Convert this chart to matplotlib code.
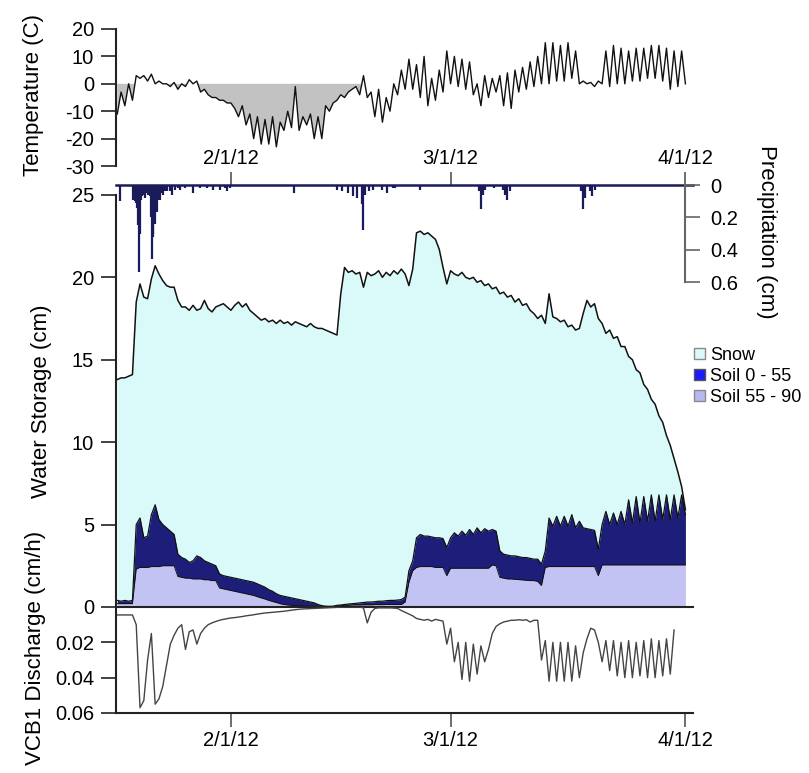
import numpy as np
import matplotlib
matplotlib.use('Agg')
import matplotlib.pyplot as plt
from matplotlib.patches import Patch

plt.rcParams['font.family'] = ['Liberation Sans', 'DejaVu Sans']

# ---------------- data (day of year 2012, Jan 1 = 0; half-day steps) ----------------
t_start = 16.0
step = 0.5

temperature_c = [
    -11, -3, -8, 0, -6, 3, 2, 3, 1, 3.5,
    0, 1, 0, 0, -1, 0.5, -2, 0, -1, 1.5,
    0, 1, -3, -2, -4, -5, -5, -6, -6, -7,
    -7, -9, -12, -8, -15, -11, -20, -12, -22, -13,
    -22, -12, -23, -14, -17, -10, -16, -1, -17, -12,
    -15, -11, -20, -12, -20, -8, -10, -7, -6, -4,
    -5, -3, -2, -1, -4, 3, -5, -3, -12, -2,
    -14, -5, -10, 0, -4, 5, -2, 9, -2, 7,
    -5, 10, -8, 2, -6, 5, -3, 12, 0, 10,
    -1, 9, -2, 8, -4, 0, -8, 3, -5, 2,
    -3, 3, -8, 4, -9, 5, -3, 6, -2, 8,
    -1, 10, 0, 15, 0, 15, 1, 14, 1, 15,
    2, 12, 0, 1, 0, 0.5, -1, 1, 0, 12,
    -1, 14, 0, 13, 0, 12, 1, 13, 1, 13,
    2, 14, 2, 14, 1, 13, -2, 12, -1, 12,
    0,
]

storage_total_cm = [
    13.8, 13.9, 13.9, 14.0, 14.1, 18.5, 19.6, 18.8, 18.7, 19.9,
    20.7, 20.2, 19.8, 19.5, 19.4, 19.4, 18.6, 18.2, 18.2, 18.0,
    18.3, 18.0, 18.1, 18.6, 18.1, 17.9, 18.2, 18.3, 18.4, 18.2,
    18.0, 18.3, 18.5, 18.2, 18.4, 18.0, 17.8, 17.6, 17.4, 17.5,
    17.3, 17.4, 17.2, 17.4, 17.2, 17.3, 17.1, 17.3, 17.2, 17.1,
    17.0, 17.2, 17.0, 16.9, 16.9, 16.8, 16.7, 16.6, 16.5, 19.0,
    20.6, 20.3, 20.4, 20.2, 20.3, 19.4, 20.3, 20.1, 20.2, 20.4,
    20.0, 20.3, 20.1, 20.4, 20.2, 20.5, 20.2, 19.5, 20.5, 22.7,
    22.8, 22.6, 22.7, 22.5, 22.3, 21.7, 20.6, 19.6, 20.4, 20.2,
    20.1, 20.3, 20.0, 19.9, 20.0, 19.7, 19.8, 19.5, 19.6, 19.3,
    19.4, 19.0, 19.1, 18.8, 18.9, 18.5, 18.7, 18.3, 18.4, 18.0,
    17.8, 17.5, 17.7, 17.2, 19.0, 17.6, 17.5, 17.3, 17.4, 17.0,
    17.1, 16.8, 16.9, 17.8, 18.6, 18.2, 18.4, 17.5, 17.2, 16.6,
    16.8, 16.3, 16.4, 15.8, 15.8, 15.2, 15.0, 14.4, 14.2, 13.5,
    13.2, 12.6, 12.3, 11.6, 11.2, 10.4, 9.8, 9.0, 8.2, 7.3,
    5.9,
]

soil_0_90_cm = [
    0.4, 0.35, 0.4, 0.35, 0.4, 5.0, 5.4, 4.2, 4.3, 5.6,
    6.2, 5.3, 5.0, 4.8, 4.6, 4.4, 3.2, 3.0, 2.9, 2.7,
    2.8, 3.1, 3.0, 2.8, 2.7, 2.6, 2.5, 2.0, 1.9, 1.85,
    1.8, 1.75, 1.7, 1.65, 1.6, 1.55, 1.5, 1.4, 1.3, 1.2,
    1.05, 0.95, 0.8, 0.7, 0.65, 0.6, 0.55, 0.5, 0.45, 0.4,
    0.35, 0.3, 0.25, 0.15, 0.08, 0.05, 0.04, 0.05, 0.1, 0.12,
    0.15, 0.18, 0.2, 0.22, 0.25, 0.27, 0.3, 0.3, 0.32, 0.35,
    0.35, 0.38, 0.4, 0.4, 0.42, 0.45, 0.6, 2.2, 2.8, 4.2,
    4.4, 4.3, 4.3, 4.25, 4.2, 4.2, 4.15, 3.6, 4.2, 4.5,
    4.3, 4.6, 4.35, 4.7, 4.4, 4.8, 4.5, 4.75, 4.6, 4.7,
    4.6, 3.4, 3.2, 3.15, 3.1, 3.1, 3.05, 3.0, 3.0, 2.95,
    2.9, 2.9, 2.6, 3.4, 5.4, 4.9, 5.5, 4.9, 5.5, 4.9,
    5.6, 4.8, 5.2, 4.8, 4.75, 4.7, 4.65, 3.5, 5.0, 5.8,
    5.0, 5.7, 5.0, 5.8, 5.0, 6.5, 5.1, 6.7, 5.1, 6.7,
    5.2, 6.8, 5.2, 6.8, 5.3, 6.8, 5.3, 6.8, 5.4, 6.8,
    5.6,
]

soil_55_90_cm = [
    0.2, 0.2, 0.2, 0.2, 0.2, 2.3, 2.4, 2.4, 2.4, 2.45,
    2.45, 2.45, 2.5, 2.5, 2.5, 2.5, 1.85, 1.8, 1.75, 1.75,
    1.7, 1.7, 1.7, 1.65, 1.65, 1.6, 1.6, 1.15, 1.1, 1.05,
    1.0, 0.95, 0.9, 0.85, 0.8, 0.75, 0.7, 0.62, 0.55, 0.48,
    0.4, 0.33, 0.27, 0.2, 0.15, 0.12, 0.1, 0.08, 0.07, 0.06,
    0.05, 0.05, 0.04, 0.04, 0.03, 0.03, 0.03, 0.03, 0.06, 0.08,
    0.1, 0.1, 0.12, 0.12, 0.12, 0.13, 0.13, 0.13, 0.14, 0.14,
    0.14, 0.15, 0.15, 0.15, 0.15, 0.15, 0.3, 1.5, 2.2, 2.4,
    2.45, 2.45, 2.45, 2.45, 2.4, 2.4, 2.4, 1.9, 2.35, 2.35,
    2.35, 2.35, 2.35, 2.35, 2.35, 2.35, 2.35, 2.35, 2.35, 2.55,
    2.5, 1.8, 1.75, 1.7, 1.7, 1.68, 1.66, 1.64, 1.62, 1.6,
    1.6, 1.55, 1.3, 2.4, 2.45, 2.45, 2.45, 2.45, 2.45, 2.45,
    2.45, 2.45, 2.45, 2.45, 2.45, 2.45, 2.45, 1.9, 2.55, 2.55,
    2.55, 2.55, 2.55, 2.55, 2.55, 2.55, 2.55, 2.55, 2.55, 2.55,
    2.55, 2.55, 2.55, 2.55, 2.55, 2.55, 2.55, 2.55, 2.55, 2.55,
    2.55,
]

discharge_cm_h = [
    0.0045, 0.0045, 0.0045, 0.0045, 0.0045, 0.010, 0.057, 0.053, 0.030, 0.015,
    0.055, 0.052, 0.045, 0.033, 0.021, 0.016, 0.012, 0.010, 0.024, 0.014,
    0.013, 0.021, 0.015, 0.012, 0.010, 0.009, 0.0082, 0.0075, 0.007, 0.0066,
    0.0062, 0.006, 0.0057, 0.0054, 0.005, 0.0047, 0.0044, 0.004, 0.0037, 0.0034,
    0.0032, 0.003, 0.0028, 0.0026, 0.0024, 0.0021, 0.0018, 0.0015, 0.0013, 0.0011,
    0.001, 0.0009, 0.0008, 0.0007, 0.0006, 0.0005, 0.0004, 0.0003, 0.0002, 0.0001,
    0.0, 0.0, 0.0, 0.0, 0.0, 0.0005, 0.009, 0.003, 0.0008, 0.0005,
    0.0005, 0.0005, 0.0005, 0.0006, 0.0008, 0.002, 0.003, 0.004, 0.005, 0.0065,
    0.007, 0.0075, 0.007, 0.008, 0.007, 0.0075, 0.008, 0.021, 0.012, 0.031,
    0.020, 0.041, 0.020, 0.042, 0.021, 0.038, 0.022, 0.031, 0.024, 0.015,
    0.011, 0.0095, 0.0085, 0.008, 0.0075, 0.0075, 0.0072, 0.0075, 0.0072, 0.0085,
    0.0075, 0.0075, 0.030, 0.019, 0.042, 0.020, 0.042, 0.020, 0.042, 0.020,
    0.042, 0.022, 0.040, 0.026, 0.018, 0.012, 0.013, 0.020, 0.031, 0.019,
    0.036, 0.019, 0.039, 0.020, 0.040, 0.019, 0.040, 0.020, 0.039, 0.019,
    0.040, 0.018, 0.040, 0.019, 0.039, 0.018, 0.038, 0.013,
]

precip_day = [16.35, 18.1, 18.3, 18.5, 18.65, 18.8, 18.91, 19.0, 19.13, 19.3,
              19.45, 19.65, 19.9, 20.1, 20.3, 20.45, 20.54, 20.65, 20.76, 20.98,
              21.2, 21.4, 21.64, 21.9, 22.08, 22.3, 22.52, 22.96, 23.18, 23.62,
              24.0, 24.28, 25.0, 26.04, 26.9, 27.8, 28.7, 29.6, 30.2, 30.5,
              30.9, 39.3, 45.06, 45.65, 46.5, 47.1, 47.7, 48.3, 48.4, 48.7,
              49.2, 49.8, 51.0, 51.6, 52.4, 52.7, 56.0, 63.7, 64.0, 64.3,
              64.6, 65.7, 66.9, 67.2, 67.5, 67.8, 77.25, 77.5, 77.8, 78.4,
              78.7, 79.0]
precip_cm = [0.10, 0.09, 0.10, 0.11, 0.14, 0.25, 0.54, 0.30, 0.09, 0.07,
             0.06, 0.08, 0.05, 0.06, 0.07, 0.20, 0.46, 0.30, 0.32, 0.24,
             0.17, 0.09, 0.09, 0.05, 0.06, 0.04, 0.04, 0.04, 0.06, 0.03,
             0.02, 0.03, 0.02, 0.05, 0.02, 0.02, 0.03, 0.03, 0.02, 0.04,
             0.02, 0.05, 0.03, 0.04, 0.05, 0.07, 0.08, 0.12, 0.28, 0.06,
             0.04, 0.03, 0.03, 0.05, 0.02, 0.02, 0.03, 0.04, 0.15, 0.06,
             0.03, 0.02, 0.03, 0.06, 0.09, 0.04, 0.04, 0.15, 0.08, 0.04,
             0.07, 0.03]

date_ticks = [31, 60, 91]
date_labels = ['2/1/12', '3/1/12', '4/1/12']
temp_ticks = [-30, -20, -10, 0, 10, 20]
storage_ticks = [0, 5, 10, 15, 20, 25]
precip_ticks = [0, 0.2, 0.4, 0.6]
precip_tick_labels = ['0', '0.2', '0.4', '0.6']
discharge_ticks = [0.02, 0.04, 0.06]
discharge_tick_labels = ['0.02', '0.04', '0.06']

# ---------------- arrays ----------------
temp = np.array(temperature_c, float)
t_days = t_start + step * np.arange(len(temp))
tot = np.array(storage_total_cm, float)
soil = np.array(soil_0_90_cm, float)
deep = np.array(soil_55_90_cm, float)
w_days = t_start + step * np.arange(len(tot))
q = np.array(discharge_cm_h, float)
q_days = t_start + step * np.arange(len(q))

# ---------------- figure ----------------
W, H = 809, 773
fig = plt.figure(figsize=(W / 100, H / 100), dpi=100)
fig.patch.set_facecolor('white')


def box(l, t, r, b):
    return [l / W, 1 - b / H, (r - l) / W, (b - t) / H]


XL = (15.83, 92.0)
FS = 14.5
TL, TW, TP = 10.8, 1.2, 5.0
SPC = '#222222'
SLW = 1.5

# Temperature panel
ax_t = fig.add_axes(box(116, 29, 693, 185))
ax_t.set_xlim(XL)
ax_t.set_ylim(-36.93, 20)
cold = (temp < 0) & (t_days <= 48.5)
ax_t.fill_between(t_days, temp, 0, where=cold, interpolate=True,
                  color='#c2c2c2', linewidth=0)
ax_t.plot(t_days, temp, color='#111111', lw=1.0)
for s in ['top', 'right', 'bottom']:
    ax_t.spines[s].set_visible(False)
ax_t.spines['left'].set_bounds(-30, 20)
ax_t.spines['left'].set_linewidth(SLW)
ax_t.spines['left'].set_color(SPC)
ax_t.set_xticks([])
ax_t.set_yticks(temp_ticks)
ax_t.set_yticklabels([str(v) for v in temp_ticks])
ax_t.tick_params(axis='y', length=TL, width=TW, pad=TP, labelsize=FS, color=SPC)
ax_t.patch.set_alpha(0)

# Water storage panel
ax_w = fig.add_axes(box(116, 185, 693, 607))
ax_w.set_xlim(XL)
ax_w.set_ylim(0, 25.6)
ax_w.fill_between(w_days, soil, tot, color='#dafafa', linewidth=0)
ax_w.fill_between(w_days, deep, soil, color='#1d1d7a', linewidth=0)
ax_w.fill_between(w_days, 0, deep, color='#c3c3f3', linewidth=0)
ax_w.plot(w_days, deep, color='#111111', lw=0.7)
ax_w.plot(w_days, soil, color='#111111', lw=0.9)
ax_w.plot(w_days, tot, color='#111111', lw=1.1)
ax_w.spines['right'].set_visible(False)
ax_w.spines['top'].set_color('#1b1b5c')
ax_w.spines['top'].set_linewidth(1.8)
ax_w.spines['bottom'].set_color(SPC)
ax_w.spines['bottom'].set_linewidth(SLW)
ax_w.spines['left'].set_bounds(0, 25)
ax_w.spines['left'].set_color(SPC)
ax_w.spines['left'].set_linewidth(SLW)
ax_w.set_yticks(storage_ticks)
ax_w.set_yticklabels([str(v) for v in storage_ticks])
ax_w.tick_params(axis='y', length=TL, width=TW, pad=TP, labelsize=FS, color=SPC)
ax_w.set_xticks(date_ticks)
ax_w.set_xticklabels(date_labels)
ax_w.tick_params(axis='x', top=True, bottom=False, labeltop=True, labelbottom=False,
                 direction='out', length=9.4, width=TW, pad=3.0, labelsize=FS, color='#555555')

# Precipitation (inverted, right)
ax_p = ax_w.twinx()
ax_p.set_ylim(2.61, 0)
ax_p.vlines(precip_day, 0, precip_cm, color='#1b1b5c', lw=1.6)
for s in ['top', 'left', 'bottom']:
    ax_p.spines[s].set_visible(False)
ax_p.spines['right'].set_position(('axes', (91 - XL[0]) / (XL[1] - XL[0])))
ax_p.spines['right'].set_bounds(0, 0.6)
ax_p.spines['right'].set_color('#666666')
ax_p.spines['right'].set_linewidth(SLW)
ax_p.set_yticks(precip_ticks)
ax_p.set_yticklabels(precip_tick_labels)
ax_p.tick_params(axis='y', length=TL, width=TW, pad=7.0, labelsize=FS, color='#666666')

# Discharge panel (inverted)
ax_q = fig.add_axes(box(116, 607, 693, 713))
ax_q.set_xlim(XL)
ax_q.set_ylim(0.06, 0)
ax_q.plot(q_days, q, color='#444444', lw=1.0)
for s in ['top', 'right']:
    ax_q.spines[s].set_visible(False)
for s in ['left', 'bottom']:
    ax_q.spines[s].set_color(SPC)
    ax_q.spines[s].set_linewidth(SLW)
ax_q.set_yticks(discharge_ticks)
ax_q.set_yticklabels(discharge_tick_labels)
ax_q.tick_params(axis='y', length=TL, width=TW, pad=TP, labelsize=FS, color=SPC)
ax_q.set_xticks(date_ticks)
ax_q.set_xticklabels(date_labels)
ax_q.tick_params(axis='x', direction='out', length=10, width=TW, pad=3.0,
                 labelsize=FS, color='#555555')
ax_q.patch.set_alpha(0)

# Axis titles
LFS = 16
fig.text(34 / W, 1 - 95 / H, 'Temperature (C)', rotation=90, ha='center', va='center', fontsize=LFS)
fig.text(42 / W, 1 - 401 / H, 'Water Storage (cm)', rotation=90, ha='center', va='center', fontsize=LFS)
fig.text(36 / W, 1 - 648 / H, 'VCB1 Discharge (cm/h)', rotation=90, ha='center', va='center', fontsize=LFS)
fig.text(767 / W, 1 - 232 / H, 'Precipitation (cm)', rotation=270, ha='center', va='center', fontsize=LFS)

# Legend
handles = [Patch(facecolor='#dafafa', edgecolor='#8a8a8a', label='Snow'),
           Patch(facecolor='#1a1aff', edgecolor='#555555', label='Soil 0 - 55'),
           Patch(facecolor='#b8b8f0', edgecolor='#8a8a8a', label='Soil 55 - 90')]
fig.legend(handles=handles, loc='upper left', bbox_to_anchor=(694 / W, 1 - 347 / H),
           frameon=False, fontsize=13, handlelength=0.6, handleheight=0.6,
           handletextpad=0.3, labelspacing=0.22, borderpad=0, borderaxespad=0)

fig.savefig('out.png', dpi=100, facecolor='white')
